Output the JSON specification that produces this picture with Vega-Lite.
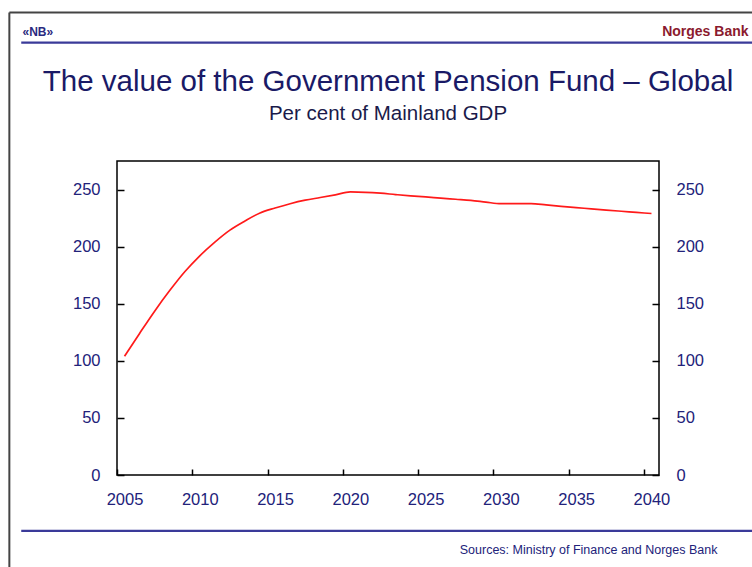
{
  "$schema": "https://vega.github.io/schema/vega-lite/v6.json",
  "width": 542,
  "height": 314,
  "autosize": "none",
  "padding": {"left": 117, "top": 161, "right": 93, "bottom": 92},
  "background": "white",
  "config": {
    "font": "Liberation Sans",
    "view": {"stroke": "#000000", "strokeWidth": 1.5},
    "axis": {"grid": false, "domain": false}
  },
  "title": {
    "text": "The value of the Government Pension Fund – Global",
    "subtitle": "Per cent of Mainland GDP",
    "anchor": "middle",
    "font": "Liberation Sans",
    "fontSize": 29.5,
    "fontWeight": "normal",
    "color": "#1a1a66",
    "subtitleFont": "Liberation Sans",
    "subtitleFontSize": 20.5,
    "subtitleColor": "#1a1a4a",
    "subtitlePadding": 7,
    "offset": -114
  },
  "data": {
    "values": [
      {"year": 2005, "value": 104},
      {"year": 2006, "value": 124},
      {"year": 2007, "value": 143.5},
      {"year": 2008, "value": 161.5},
      {"year": 2009, "value": 178},
      {"year": 2010, "value": 192},
      {"year": 2011, "value": 204},
      {"year": 2012, "value": 214.5},
      {"year": 2013, "value": 222.5},
      {"year": 2014, "value": 229.5},
      {"year": 2015, "value": 233.8},
      {"year": 2016, "value": 237.6},
      {"year": 2017, "value": 240.7},
      {"year": 2018, "value": 243},
      {"year": 2019, "value": 245.4},
      {"year": 2020, "value": 247.9},
      {"year": 2021, "value": 247.6},
      {"year": 2022, "value": 246.8},
      {"year": 2023, "value": 245.6},
      {"year": 2024, "value": 244.5},
      {"year": 2025, "value": 243.6},
      {"year": 2026, "value": 242.5},
      {"year": 2027, "value": 241.5},
      {"year": 2028, "value": 240.5},
      {"year": 2029, "value": 239},
      {"year": 2030, "value": 237.6},
      {"year": 2031, "value": 237.6},
      {"year": 2032, "value": 237.6},
      {"year": 2033, "value": 236.5},
      {"year": 2034, "value": 235.3},
      {"year": 2035, "value": 234.2},
      {"year": 2036, "value": 233.1},
      {"year": 2037, "value": 232},
      {"year": 2038, "value": 231},
      {"year": 2039, "value": 230},
      {"year": 2040, "value": 229}
    ]
  },
  "layer": [
    {
      "mark": {"type": "line", "color": "#ff1a1a", "strokeWidth": 1.7, "interpolate": "monotone"},
      "encoding": {
        "x": {
          "field": "year",
          "type": "quantitative",
          "scale": {"domain": [2004.5, 2040.5], "nice": false, "zero": false},
          "axis": {
            "orient": "bottom",
            "values": [2004.5, 2009.5, 2014.5, 2019.5, 2024.5, 2029.5, 2034.5, 2039.5],
            "labelExpr": "format(datum.value + 0.5, 'd')",
            "labelOffset": 7.5,
            "labelFlush": false,
            "labelOverlap": false,
            "tickSize": -6,
            "tickColor": "#000000",
            "tickWidth": 1.5,
            "labelPadding": 22,
            "labelFontSize": 16.5,
            "labelColor": "#22227a",
            "labelFont": "Liberation Sans",
            "title": "Sources: Ministry of Finance and Norges Bank",
            "titleX": 600,
            "titleY": 74,
            "titleAlign": "right",
            "titleBaseline": "middle",
            "titleFontSize": 12.5,
            "titleFontWeight": "normal",
            "titleColor": "#22227a",
            "titleFont": "Liberation Sans"
          }
        },
        "y": {
          "field": "value",
          "type": "quantitative",
          "scale": {"domain": [0, 275], "nice": false},
          "axis": {
            "orient": "left",
            "values": [0, 50, 100, 150, 200, 250],
            "labelFlush": false,
            "tickSize": -7,
            "tickColor": "#000000",
            "tickWidth": 1.5,
            "labelPadding": 24,
            "labelFontSize": 16.5,
            "labelColor": "#22227a",
            "labelFont": "Liberation Sans",
            "title": "«NB»",
            "titleAngle": 0,
            "titleX": -95,
            "titleY": -130,
            "titleAlign": "left",
            "titleBaseline": "middle",
            "titleFontSize": 12,
            "titleFontWeight": "bold",
            "titleColor": "#2a2a80",
            "titleFont": "Liberation Sans"
          }
        }
      }
    },
    {
      "mark": {"type": "line", "color": "#ff1a1a", "strokeWidth": 1.6, "interpolate": "monotone", "opacity": 0},
      "encoding": {
        "x": {"field": "year", "type": "quantitative", "axis": null},
        "y": {
          "field": "value",
          "type": "quantitative",
          "axis": {
            "orient": "right",
            "values": [0, 50, 100, 150, 200, 250],
            "labelFlush": false,
            "tickSize": -7,
            "tickColor": "#000000",
            "tickWidth": 1.5,
            "labelPadding": 24,
            "labelFontSize": 16.5,
            "labelColor": "#22227a",
            "labelFont": "Liberation Sans",
            "title": "Norges Bank",
            "titleAngle": 0,
            "titleX": 89,
            "titleY": -130,
            "titleAlign": "right",
            "titleBaseline": "middle",
            "titleFontSize": 14,
            "titleFontWeight": "bold",
            "titleColor": "#8b1a2e",
            "titleFont": "Liberation Sans"
          }
        }
      }
    },
    {
      "data": {"values": [{}]},
      "mark": {"type": "rule", "color": "#444444", "strokeWidth": 2},
      "encoding": {
        "x": {"datum": 1997.35, "axis": null},
        "y": {"datum": 405, "axis": null},
        "y2": {"datum": -100}
      }
    },
    {
      "data": {"values": [{}]},
      "mark": {"type": "rule", "color": "#444444", "strokeWidth": 2},
      "encoding": {
        "x": {"datum": 1997.35, "axis": null},
        "x2": {"datum": 2052},
        "y": {"datum": 405, "axis": null}
      }
    },
    {
      "data": {"values": [{}]},
      "mark": {"type": "rule", "color": "#3a3a99", "strokeWidth": 2.2},
      "encoding": {
        "x": {"datum": 1998.14, "axis": null},
        "x2": {"datum": 2052},
        "y": {"datum": 378.6, "axis": null}
      }
    },
    {
      "data": {"values": [{}]},
      "mark": {"type": "rule", "color": "#3a3a99", "strokeWidth": 2.2},
      "encoding": {
        "x": {"datum": 1998.14, "axis": null},
        "x2": {"datum": 2052},
        "y": {"datum": -49, "axis": null}
      }
    }
  ],
  "resolve": {"axis": {"x": "independent", "y": "independent"}}
}
